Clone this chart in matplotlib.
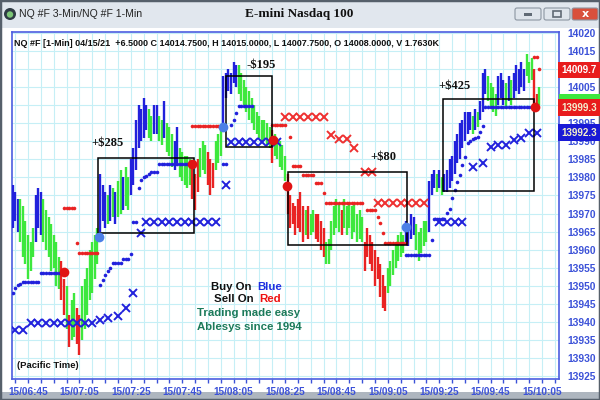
import numpy as np
import matplotlib.pyplot as plt
from matplotlib.patches import Rectangle, FancyBboxPatch, Circle

# ---- 1-min bars, minutes counted from 15/06:45 (first bar at 06:39) ----
first_minute = -6
bar_colors = ("bbbggggggb" "bbgggggggr" "rgrggrrggg" "ggggbbbgbg" "bggbggbbbb"
              "bbbggbbggb" "gggbbggggg" "rrrgggrrrg" "ggbbbbbbgg" "gggggggggg"
              "grgggggrrr" "rrrrgrggrr" "rrggggggrg" "gggggggrrr" "rrrrrrgggg"
              "gggbbbbggg" "ggbbbgbgbb" "bbbbbbbbbg" "bgbbbggggb" "bbgbgbbbbb"
              "gggrrg")
lows = [13966, 13968, 13965, 13962, 13958, 13956, 13952, 13954, 13958, 13962,
        13966, 13964, 13962, 13960, 13958, 13954, 13955, 13950, 13949, 13946,
        13942, 13938, 13933, 13935, 13936, 13934, 13931, 13935, 13938, 13942,
        13946, 13948, 13952, 13956, 13965, 13968, 13966, 13967, 13968, 13969,
        13967, 13969, 13970, 13971, 13972, 13971, 13975, 13978, 13982, 13988,
        13990, 13991, 13993, 13991, 13990, 13992, 13992, 13990, 13989, 13991,
        13987, 13986, 13983, 13982, 13984, 13980, 13979, 13978, 13977, 13978,
        13974, 13971, 13976, 13980, 13982, 13981, 13978, 13975, 13977, 13982,
        13984, 13986, 13994, 14002, 14004, 14003, 14006, 14005, 14003, 14001,
        14000, 13998, 13996, 13995, 13993, 13992, 13991, 13990, 13990, 13989,
        13988, 13984, 13986, 13985, 13983, 13982, 13979, 13970, 13966, 13967,
        13964, 13966, 13965, 13962, 13964, 13963, 13964, 13965, 13963, 13962,
        13960, 13958, 13956, 13956, 13960, 13964, 13966, 13965, 13964, 13966,
        13964, 13966, 13963, 13965, 13962, 13963, 13962, 13954, 13958, 13956,
        13954, 13950, 13952, 13947, 13944, 13943, 13948, 13950, 13953, 13955,
        13957, 13958, 13959, 13962, 13961, 13963, 13964, 13960, 13957, 13959,
        13961, 13962, 13965, 13975, 13977, 13976, 13977, 13975, 13976, 13976,
        13977, 13979, 13981, 13984, 13985, 13988, 13990, 13992, 13993, 13992,
        13993, 13994, 13996, 13998, 14003, 14001, 13999, 13998, 13997, 14000,
        14002, 14000, 13999, 14001, 14000, 14002, 14004, 14003, 14005, 14004,
        14008, 14006, 14007, 13999, 14000, 14000]
highs = [13978, 13976, 13974, 13974, 13972, 13968, 13964, 13962, 13966, 13975,
         13977, 13976, 13974, 13971, 13969, 13967, 13964, 13962, 13958, 13957,
         13952, 13950, 13942, 13946, 13948, 13944, 13942, 13950, 13952, 13955,
         13960, 13962, 13964, 13966, 13981, 13978, 13976, 13975, 13978, 13977,
         13976, 13979, 13982, 13980, 13983, 13980, 13985, 13988, 13996, 14000,
         13999, 14002, 14000, 13999, 13997, 14000, 14000, 13997, 13996, 14001,
         13995, 13994, 13992, 13990, 13994, 13988, 13987, 13986, 13986, 13985,
         13984, 13981, 13985, 13988, 13990, 13989, 13987, 13985, 13984, 13990,
         13992, 13994, 14008, 14009, 14010, 14009, 14012, 14011, 14011, 14009,
         14007, 14005, 14004, 14002, 14000, 13998, 13997, 13996, 13996, 13995,
         13994, 13993, 13992, 13991, 13990, 13989, 13986, 13981, 13975, 13973,
         13972, 13974, 13976, 13972, 13971, 13972, 13970, 13971, 13970, 13970,
         13968, 13966, 13962, 13963, 13968, 13972, 13974, 13973, 13971, 13974,
         13972, 13973, 13972, 13973, 13970, 13971, 13969, 13962, 13966, 13964,
         13962, 13960, 13958, 13956, 13953, 13950, 13955, 13957, 13960, 13962,
         13964, 13965, 13964, 13968, 13967, 13970, 13969, 13967, 13965, 13966,
         13968, 13968, 13979, 13981, 13982, 13981, 13982, 13980, 13981, 13982,
         13985, 13986, 13990, 13992, 13995, 13996, 13998, 13998, 13998, 13997,
         13999, 13998, 14001, 14009, 14010, 14008, 14006, 14005, 14003, 14008,
         14009, 14007, 14006, 14008, 14007, 14009, 14011, 14010, 14012, 14010,
         14014, 14012, 14013, 14010, 14003, 14005]

# ---- trailing-stop dots and X marks (from the 3-min chart) ----
blue_dot_t = [-6, -5, -4, -3, -2, -1, 0, 1, 2, 3, 4, 5, 6, 7, 8, 9, 10, 11, 12,
              28, 29, 30, 31, 32, 33, 34, 35, 36, 37, 38, 39, 40, 41, 42, 43, 44,
              45, 46, 47, 48, 49, 50, 51, 52, 53, 54, 55, 56, 57, 58, 59, 60, 61,
              62, 63, 76, 77, 79, 80, 81, 82, 83, 84, 85, 86, 87,
              147, 148, 149, 150, 151, 152, 153, 154, 155, 156, 157, 158, 159,
              160, 161, 162, 163, 164, 165, 166, 167, 168, 169, 170, 171, 172,
              173, 174, 175, 176, 177, 178, 179, 180, 181, 182, 183, 184, 185,
              186, 187, 188, 189, 190, 191, 192, 193, 194, 195, 196]
blue_dot_p = [13948, 13949.5, 13950.2, 13950.5, 13951, 13951.1, 13951.1, 13951.1,
              13951.1, 13951.1, 13951.1, 13953.6, 13953.6, 13953.6, 13953.6,
              13953.6, 13953.6, 13953.6, 13953.6,
              13950.3, 13951.5, 13953, 13954, 13955, 13956.3, 13956.3, 13956.3,
              13956.3, 13957.4, 13957.4, 13957.4, 13958.8, 13967.7, 13967.7,
              13977.1, 13979.3, 13980, 13980.5, 13981, 13981.5, 13981.5, 13981.5,
              13983.7, 13983.7, 13983.7, 13983.7, 13983.7, 13983.7, 13983.7,
              13983.7, 13983.7, 13983.7, 13983.7, 13983.7, 13983.7,
              13983.7, 13983.7, 13994.4, 13996, 13997.8, 13999.8, 13999.8,
              13999.8, 13999.8, 13999.8, 13999.8,
              13958.6, 13958.6, 13958.6, 13958.6, 13958.6, 13958.6, 13958.6,
              13958.6, 13958.6, 13958.6, 13962.7, 13968.5, 13968.5, 13968.5,
              13968.5, 13968.5, 13970.2, 13971.3, 13974.3, 13976.5, 13978.8,
              13980.7, 13983.4, 13985.7, 13989.5, 13990, 13990.5, 13991, 13991.2,
              13992.6, 13994.2, 13999.5, 13999.5, 13999.5, 13999.5, 13999.5,
              13999.5, 13999.5, 13999.5, 13999.5, 13999.5, 13999.5, 13999.5,
              13999.5, 13999.5, 13999.5, 13999.5, 13999.5, 13999.5, 13999.5]
red_dot_t = [14, 15, 16, 17, 18, 19, 20, 21, 22, 23, 24, 25, 26, 27,
             64, 65, 66, 67, 68, 69, 70, 71, 72, 73, 74,
             95, 96, 97, 98, 99, 100, 102, 103, 104, 105, 106, 107, 108, 109,
             110, 111, 112, 113, 114, 115, 116, 117, 118, 119, 120, 121, 122,
             123, 124, 125, 126, 127, 128, 129, 130, 132, 133, 134, 135, 136,
             137, 138, 139, 140, 141, 142, 143, 144, 145, 146, 147,
             197, 198, 199]
red_dot_p = [13971.6, 13971.6, 13971.6, 13971.6, 13971.6, 13961.9, 13959,
             13959, 13959, 13959, 13959, 13959, 13959, 13959,
             13994.2, 13994.2, 13994.2, 13994.2, 13994.2, 13994.2, 13994.2,
             13994.2, 13994.2, 13994.2, 13994.2,
             13994.5, 13994.5, 13994.5, 13994.5, 13994.5, 13994.5, 13991.2,
             13983.1, 13983.1, 13983.1, 13983.1, 13980.7, 13980.7, 13980.7,
             13980.7, 13980.7, 13978.5, 13978.5, 13978.5, 13975.7, 13972.9,
             13972.9, 13972.9, 13972.9, 13972.9, 13972.9, 13972.9, 13972.9,
             13972.9, 13972.9, 13972.9, 13972.9, 13972.9, 13972.9, 13972.9,
             13971, 13971, 13971, 13971, 13969.1, 13967.4, 13964.6, 13961.9,
             13961.9, 13961.9, 13961.9, 13961.9, 13961.9, 13961.9, 13961.9,
             13961.9, 14013.4, 14013.4, 14010]
blue_x_t = [-5, -2, 1, 4, 7, 10, 13, 16, 19, 22, 25, 28, 31, 35, 38, 41, 44,
            46, 49, 52, 55, 58, 61, 64, 67, 70, 73, 77, 79, 82, 85, 88, 91, 94,
            97, 160, 163, 166, 169, 173, 177, 180, 183, 186, 189, 192, 195, 198]
blue_x_p = [13937.8, 13937.8, 13939.7, 13939.7, 13939.7, 13939.7, 13939.7,
            13939.7, 13939.7, 13939.7, 13939.7, 13940.6, 13941.1, 13941.7,
            13943.9, 13948, 13964.6, 13967.7, 13967.7, 13967.7, 13967.7,
            13967.7, 13967.7, 13967.7, 13967.7, 13967.7, 13967.7, 13977.9,
            13989.8, 13989.8, 13989.8, 13989.8, 13989.8, 13989.8, 13989.8,
            13967.7, 13967.7, 13967.7, 13967.7, 13982.8, 13984, 13988.4, 13989,
            13989, 13990.4, 13991, 13992.3, 13992.3]
red_x_t = [100, 103, 106, 109, 112, 115, 118, 121, 124, 127, 131, 134,
           136, 139, 142, 145, 148, 151, 154]
red_x_p = [13996.7, 13996.7, 13996.7, 13996.7, 13996.7, 13996.7, 13991.8,
           13990.5, 13990.5, 13988.1, 13981.5, 13981.5, 13972.9, 13972.9,
           13972.9, 13972.9, 13972.9, 13972.9, 13972.9]

# entry / exit signals
buy_t = [27.6, 75.9, 147]
buy_p = [13963.5, 13994, 13966.4]
sell_t = [14, 63.8, 95.3, 100.8, 197.3]
sell_p = [13953.9, 13983.8, 13990.2, 13977.5, 13999.5]

# trade boxes: start, end, low, high, label
trade_start = [27.1, 76.9, 101.3, 161.4]
trade_end = [64.6, 95.1, 147.3, 197]
trade_low = [13964.6, 13988.5, 13961.3, 13976.3]
trade_high = [13985.3, 14008, 13981.6, 14001.6]
trade_labels = ["+$285", "-$195", "+$80", "+$425"]
label_t = [31.1, 90.7, 138.1, 165.8]
label_p = [13989.5, 14011.1, 13985.7, 14005.3]

tick_minutes = [0, 20, 40, 60, 80, 100, 120, 140, 160, 180, 200]
tick_labels = ["15/06:45", "15/07:05", "15/07:25", "15/07:45", "15/08:05",
               "15/08:25", "15/08:45", "15/09:05", "15/09:25", "15/09:45",
               "15/10:05"]
price_ticks = [13925, 13930, 13935, 13940, 13945, 13950, 13955, 13960, 13965,
               13970, 13975, 13980, 13985, 13990, 13995, 14000, 14005, 14010,
               14015, 14020]
hidden_ticks = [14000, 14010]   # covered by the last-value boxes

BLUE = "#2121dc"
GREEN = "#3de83d"
RED = "#e92323"
AXBLUE = "#3c52d8"
col_map = {"b": BLUE, "g": GREEN, "r": RED}

fig = plt.figure(figsize=(6, 4), dpi=100, facecolor="white")

# window chrome in pixel coordinates
chrome = fig.add_axes([0, 0, 1, 1])
chrome.set_xlim(0, 600)
chrome.set_ylim(400, 0)
chrome.axis("off")
chrome.add_patch(Rectangle((0, 0), 600, 28, fc="#e1e7ee", ec="none"))
chrome.add_patch(Rectangle((0, 392), 600, 8, fc="#aeb6bf", ec="none"))
chrome.add_patch(Rectangle((0, 0), 600, 400, fc="none", ec="#56606b", lw=2.5))
chrome.add_patch(Circle((10, 14), 6, fc="#2f3b45", ec="none"))
chrome.add_patch(Circle((10, 14.5), 3.2, fc="#7cc576", ec="none"))
chrome.text(19, 14, "NQ #F 3-Min/NQ #F 1-Min", fontsize=7.6, color="#222222",
            family="Liberation Sans", va="center", ha="left")
chrome.text(299, 14, "E-mini Nasdaq 100", fontsize=9.5, fontweight="bold",
            family="Liberation Serif", va="center", ha="center", color="#111111")
for bx, fc, sym in [(515, "#dfe5ec", "min"), (544, "#dfe5ec", "max"), (572, "#d9503c", "x")]:
    chrome.add_patch(FancyBboxPatch((bx, 8), 26, 12, boxstyle="round,pad=0,rounding_size=2",
                                    fc=fc, ec="#8c96a2", lw=0.8))
    if sym == "min":
        chrome.add_patch(Rectangle((bx + 9, 13), 8, 3, fc="#606a75", ec="none"))
    elif sym == "max":
        chrome.add_patch(Rectangle((bx + 9, 11), 8, 6, fc="none", ec="#606a75", lw=1.2))
    else:
        chrome.text(bx + 13, 14, "x", color="white", fontsize=8, fontweight="bold",
                    ha="center", va="center", family="DejaVu Sans")

ax = fig.add_axes([12 / 600, 21 / 400, 547 / 600, 347 / 400])
ax.set_facecolor("white")
ax.set_xlim(-6.23, 206.6)
ax.set_ylim(13924.25, 14020.2)

n = len(highs)
minutes = np.arange(n) + first_minute
ax.vlines(minutes, lows, highs, colors=[col_map[c] for c in bar_colors], lw=1.7, zorder=3)

ax.plot(blue_dot_t, blue_dot_p, "o", ms=2.6, color=BLUE, mec="none", zorder=4)
ax.plot(red_dot_t, red_dot_p, "o", ms=2.6, color=RED, mec="none", zorder=4)
ax.plot(blue_x_t, blue_x_p, "x", ms=5.2, mew=1.4, color=BLUE, zorder=4)
ax.plot(red_x_t, red_x_p, "x", ms=5.2, mew=1.4, color="#ee3030", zorder=4)
ax.plot(buy_t, buy_p, "o", ms=7, color="#4b7fe6", mec="none", zorder=6)
ax.plot(sell_t, sell_p, "o", ms=7, color="#e01414", mec="none", zorder=6)

for t0, t1, lo, hi, lab, lt, lp in zip(trade_start, trade_end, trade_low, trade_high,
                                        trade_labels, label_t, label_p):
    ax.add_patch(Rectangle((t0, lo), t1 - t0, hi - lo, fill=False, ec="black", lw=1.1, zorder=5))
    ax.text(lt, lp, lab, fontsize=9, fontweight="bold", family="Liberation Serif",
            ha="center", va="center", color="#111111", zorder=7)

# grid, ticks, frame
ax.set_xticks(tick_minutes)
ax.set_xticklabels(tick_labels)
ax.set_xticks(np.arange(-5, 206, 5), minor=True)
ax.set_yticks(price_ticks)
ax.set_yticklabels(["" if p in hidden_ticks else str(p) for p in price_ticks])
ax.yaxis.tick_right()
ax.grid(True, which="both", color="#c6eff6", lw=0.8, zorder=0)
ax.set_axisbelow(True)
ax.tick_params(axis="y", length=0, pad=6, labelsize=7.4, labelcolor=AXBLUE)
ax.tick_params(axis="x", which="both", length=3, color=AXBLUE, width=1, pad=3,
               labelsize=7.2, labelcolor=AXBLUE)
for lab in ax.get_xticklabels() + ax.get_yticklabels():
    lab.set_fontweight("bold")
    lab.set_family("Liberation Sans")
for s in ax.spines.values():
    s.set_color("#4b5de0")
    s.set_linewidth(1.2)

ax.text(0.004, 0.967, "NQ #F [1-Min] 04/15/21  +6.5000 C 14014.7500, H 14015.0000, "
        "L 14007.7500, O 14008.0000, V 1.7630K", transform=ax.transAxes,
        fontsize=6.5, fontweight="bold", family="Liberation Sans", ha="left", va="center",
        color="#111111")
ax.text(-4.3, 13927.9, "(Pacific Time)", fontsize=6.8, fontweight="bold",
        family="Liberation Sans", ha="left", va="center", color="#111111")

kw = dict(fontsize=8.2, fontweight="bold", family="Liberation Sans", va="center")
ax.text(88.3, 13949.7, "Buy On ", ha="right", color="#111111", **kw)
ax.text(89.3, 13949.7, "Blue", ha="left", color="#1f2fe0", **kw)
ax.text(89.1, 13946.4, "Sell On ", ha="right", color="#111111", **kw)
ax.text(90.1, 13946.4, "Red", ha="left", color="#ee1111", **kw)
ax.text(86.0, 13942.5, "Trading made easy", ha="center", color="#1b7a5a", **kw)
ax.text(86.0, 13938.6, "Ablesys since 1994", ha="center", color="#1b7a5a", **kw)

# last-value boxes on the price scale
yax = ax.get_yaxis_transform()
ax.add_patch(Rectangle((1.0, 13998.9), 0.08, 4.2, transform=yax, fc=GREEN, ec="none",
                       clip_on=False, zorder=9))
box_kw = dict(transform=yax, fontsize=7, fontweight="bold", family="Liberation Sans",
              ha="left", va="center", clip_on=False, zorder=10)
ax.text(1.004, 14009.7, "14009.7", color="white",
        bbox=dict(boxstyle="square,pad=0.35", fc="#e81c1c", ec="none"), **box_kw)
ax.text(1.004, 13999.3, "13999.3", color="#f4f0d0",
        bbox=dict(boxstyle="square,pad=0.35", fc="#e81c1c", ec="none"), **box_kw)
ax.text(1.004, 13992.3, "13992.3", color="#f6f0c8",
        bbox=dict(boxstyle="square,pad=0.35", fc="#1a1ad6", ec="none"), **box_kw)

fig.savefig("out.png", dpi=100, facecolor=fig.get_facecolor())
